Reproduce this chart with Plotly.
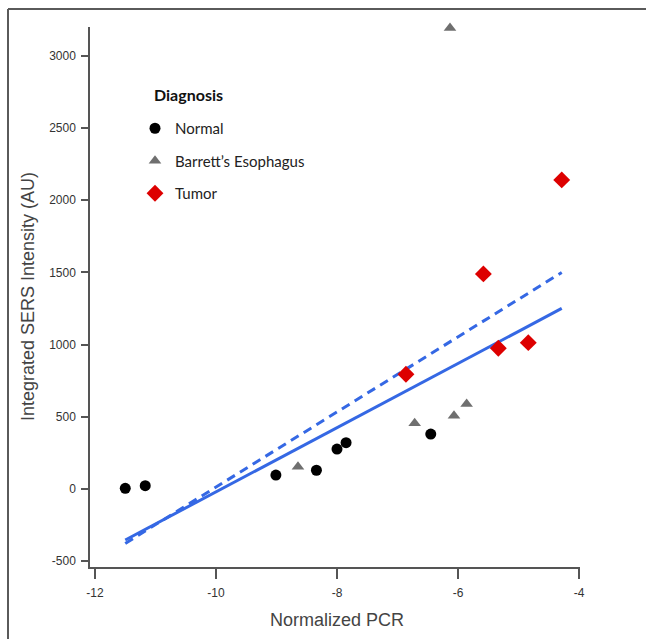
import numpy as np
import plotly.graph_objects as go

# ---- data ----
normal_x = [-11.50, -11.17, -9.01, -8.34, -8.00, -7.85, -6.45]
normal_y = [5, 23, 97, 130, 277, 321, 381]

barrett_x = [-8.645, -6.716, -6.066, -5.857, -6.132]
barrett_y = [155, 455, 508, 589, 3193]

tumor_x = [-6.86, -5.58, -5.333, -4.838, -4.285]
tumor_y = [795, 1490, 975, 1014, 2141]

x_ticks = [-12, -10, -8, -6, -4]
x_tick_labels = ["-12", "-10", "-8", "-6", "-4"]
y_ticks = [-500, 0, 500, 1000, 1500, 2000, 2500, 3000]
y_tick_labels = ["-500", "0", "500", "1000", "1500", "2000", "2500", "3000"]
outlier_y = 3193  # excluded from the solid fit

# ---- fits ----
all_x = np.array(normal_x + barrett_x + tumor_x)
all_y = np.array(normal_y + barrett_y + tumor_y)
mask = all_y != outlier_y
xr = np.array([all_x.min(), all_x.max()])
k_all, b_all = np.polyfit(all_x, all_y, 1)
k_sub, b_sub = np.polyfit(all_x[mask], all_y[mask], 1)

BLUE = "#3568e4"
fig = go.Figure()
fig.add_trace(go.Scatter(x=xr, y=k_all * xr + b_all, mode="lines",
                         line=dict(color=BLUE, width=3, dash="9px,6px"),
                         showlegend=False, hoverinfo="skip"))
fig.add_trace(go.Scatter(x=xr, y=k_sub * xr + b_sub, mode="lines",
                         line=dict(color=BLUE, width=3),
                         showlegend=False, hoverinfo="skip"))
fig.add_trace(go.Scatter(x=normal_x, y=normal_y, mode="markers", name="Normal",
                         legendgroup="a", cliponaxis=False,
                         marker=dict(symbol="circle", size=11, color="#000000")))
fig.add_trace(go.Scatter(x=barrett_x, y=barrett_y, mode="markers",
                         name="Barrett\u2019s Esophagus", legendgroup="b",
                         cliponaxis=False,
                         marker=dict(symbol="triangle-up", size=11, color="#6f6f6f")))
fig.add_trace(go.Scatter(x=tumor_x, y=tumor_y, mode="markers", name="Tumor",
                         legendgroup="c", cliponaxis=False,
                         marker=dict(symbol="diamond", size=13, color="#dd0000")))

W, H = 646, 639
L, R, T, B = 90, 66, 27, 72
pw, ph = W - L - R, H - T - B


def px(xp):
    return (xp - L) / pw


def py(yp):
    return (H - B - yp) / ph


axis_common = dict(showgrid=False, zeroline=False, showline=True,
                   linecolor="#555555", linewidth=1.5, ticks="outside",
                   tickcolor="#555555", tickwidth=1.5,
                   tickfont=dict(family="Liberation Sans, Arial", size=12, color="#333333"))

frame = dict(color="#5a5a5a", width=2)
fig.update_layout(
    width=W, height=H,
    margin=dict(l=L, r=R, t=T, b=B),
    paper_bgcolor="white", plot_bgcolor="white",
    xaxis=dict(range=[-12.083, -3.983], tickvals=x_ticks, ticktext=x_tick_labels,
               ticklen=10, ticklabelstandoff=4, **axis_common),
    yaxis=dict(range=[-540, 3200], tickvals=y_ticks, ticktext=y_tick_labels,
               ticklen=7, ticklabelstandoff=3, **axis_common),
    showlegend=True,
    legend=dict(x=px(135), y=py(112), xanchor="left", yanchor="top",
                bgcolor="rgba(0,0,0,0)", tracegroupgap=10,
                font=dict(family="Lato, Open Sans", size=15, color="#222222")),
    shapes=[
        dict(type="line", xref="paper", yref="paper",
             x0=px(8), x1=px(8), y0=py(650), y1=py(9), line=frame),
        dict(type="line", xref="paper", yref="paper",
             x0=px(8), x1=px(650), y0=py(9), y1=py(9), line=frame),
    ],
    annotations=[
        dict(text="Normalized PCR", xref="paper", yref="paper",
             x=px(337), y=py(620), xanchor="center", yanchor="middle",
             showarrow=False,
             font=dict(family="Liberation Sans, Arial", size=18, color="#444444")),
        dict(text="Integrated SERS Intensity (AU)", xref="paper", yref="paper",
             x=px(28), y=py(297), xanchor="center", yanchor="middle",
             textangle=-90, showarrow=False,
             font=dict(family="Liberation Sans, Arial", size=18, color="#444444")),
        dict(text="<b>Diagnosis</b>", xref="paper", yref="paper",
             x=px(152), y=py(95), xanchor="left", yanchor="middle",
             showarrow=False,
             font=dict(family="Lato, Open Sans", size=16, color="#111111")),
    ],
)

fig.write_html("out.html", config={"displayModeBar": False},
               post_script="document.body.style.margin='0';"
                           "document.body.style.overflow='hidden';")
